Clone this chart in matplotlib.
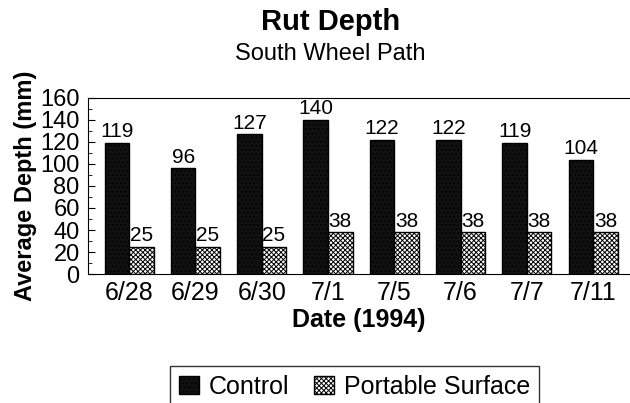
import numpy as np
import matplotlib.pyplot as plt

dates = ['6/28', '6/29', '6/30', '7/1', '7/5', '7/6', '7/7', '7/11']
control = [119, 96, 127, 140, 122, 122, 119, 104]
portable = [25, 25, 25, 38, 38, 38, 38, 38]

plt.rcParams['font.family'] = ['Liberation Sans', 'DejaVu Sans']
plt.rcParams['hatch.linewidth'] = 0.7

fig = plt.figure(figsize=(6.3, 4.03), dpi=100)
ax = fig.add_axes([0.1397, 0.320, 0.8603, 0.437])

x = np.arange(len(dates))
w = 0.37
plt.rcParams['hatch.color'] = '#555555'
b1 = ax.bar(x - w / 2, control, w, facecolor='#111111', edgecolor='black',
            hatch='....', linewidth=1, label='Control')
plt.rcParams['hatch.color'] = 'black'
b2 = ax.bar(x + w / 2, portable, w, facecolor='white', edgecolor='black',
            hatch='xxxxxxx', linewidth=1, label='Portable Surface')

for xi, v in zip(x, control):
    ax.text(xi - w / 2, v + 1.5, str(v), ha='center', va='bottom', fontsize=15)
for xi, v in zip(x, portable):
    ax.text(xi + w / 2, v + 1.5, str(v), ha='center', va='bottom', fontsize=15)

ax.set_xlim(-0.62, 7.555)
ax.set_ylim(0, 160)
ax.set_yticks(range(0, 161, 20))
ax.set_yticks(range(0, 161, 10), minor=True)
ax.set_xticks(x)
ax.set_xticklabels(dates)
ax.tick_params(axis='y', which='both', direction='in', labelsize=17, pad=6)
ax.tick_params(axis='y', which='major', length=5)
ax.tick_params(axis='y', which='minor', length=3)
ax.tick_params(axis='x', length=0, labelsize=18, pad=5)
ax.spines['right'].set_visible(False)

ax.set_ylabel('Average Depth (mm)', fontsize=17, fontweight='bold', labelpad=2)
ax.set_xlabel('Date (1994)', fontsize=18, fontweight='bold', labelpad=2)

fig.text(0.524, 0.925, 'Rut Depth', ha='center', va='baseline', fontsize=21, fontweight='bold')
fig.text(0.524, 0.85, 'South Wheel Path', ha='center', va='baseline', fontsize=17)

leg = fig.legend(handles=[b1, b2], loc='center', bbox_to_anchor=(0.563, 0.04), ncol=2,
                 fontsize=18, frameon=True, fancybox=False, edgecolor='black',
                 handlelength=0.8, handleheight=0.7, handletextpad=0.4, columnspacing=1.0,
                 borderpad=0.35)
leg.get_frame().set_linewidth(1)

fig.savefig('out.png', dpi=100)
